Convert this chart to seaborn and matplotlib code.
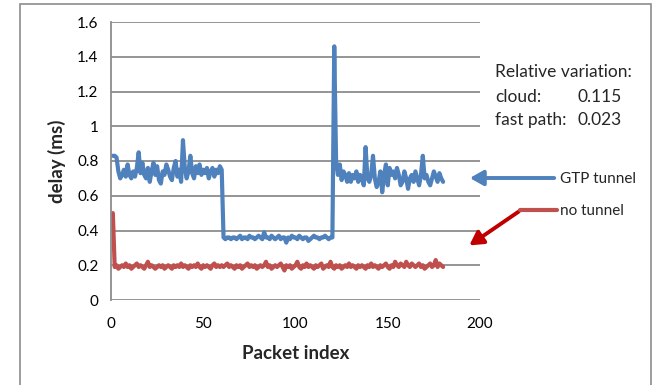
import matplotlib
matplotlib.use('Agg')
import matplotlib.pyplot as plt
import matplotlib.patches as mpatches
import seaborn as sns
import pandas as pd
import numpy as np

# delay values (ms), packets 1..180
gtp_tunnel = [
    0.83, 0.83, 0.82, 0.74, 0.70, 0.72, 0.75, 0.71, 0.78, 0.72,
    0.70, 0.74, 0.71, 0.76, 0.85, 0.73, 0.79, 0.72, 0.70, 0.76,
    0.68, 0.74, 0.79, 0.72, 0.77, 0.69, 0.67, 0.74, 0.72, 0.78,
    0.75, 0.71, 0.69, 0.76, 0.80, 0.71, 0.75, 0.68, 0.92, 0.76,
    0.70, 0.74, 0.83, 0.73, 0.70, 0.77, 0.73, 0.78, 0.72, 0.75,
    0.73, 0.76, 0.70, 0.74, 0.76, 0.71, 0.75, 0.73, 0.77, 0.75,
    0.36, 0.35, 0.36, 0.36, 0.35, 0.36, 0.36, 0.35, 0.36, 0.37,
    0.35, 0.36, 0.36, 0.35, 0.37, 0.36, 0.36, 0.35, 0.36, 0.37,
    0.36, 0.35, 0.39, 0.36, 0.36, 0.35, 0.37, 0.36, 0.35, 0.36,
    0.37, 0.35, 0.36, 0.36, 0.33, 0.36, 0.35, 0.37, 0.36, 0.36,
    0.35, 0.37, 0.36, 0.35, 0.36, 0.36, 0.34, 0.35, 0.36, 0.37,
    0.36, 0.36, 0.35, 0.36, 0.36, 0.37, 0.36, 0.35, 0.36, 0.36,
    1.46, 0.80, 0.72, 0.78, 0.69, 0.74, 0.72, 0.68, 0.73, 0.68,
    0.72, 0.70, 0.74, 0.68, 0.72, 0.70, 0.66, 0.88, 0.70, 0.68,
    0.72, 0.83, 0.70, 0.65, 0.68, 0.74, 0.62, 0.72, 0.78, 0.66,
    0.76, 0.72, 0.74, 0.70, 0.76, 0.72, 0.66, 0.68, 0.74, 0.70,
    0.64, 0.70, 0.72, 0.68, 0.74, 0.70, 0.66, 0.72, 0.83, 0.70,
    0.72, 0.68, 0.66, 0.70, 0.74, 0.71, 0.68, 0.73, 0.70, 0.68,
]
no_tunnel = [
    0.50,
    0.19, 0.20, 0.18, 0.19, 0.20, 0.19, 0.21, 0.19, 0.20, 0.18,
    0.19, 0.20, 0.21, 0.19, 0.20, 0.19, 0.18, 0.20, 0.22, 0.19,
    0.20, 0.19, 0.18, 0.19, 0.20, 0.19, 0.20, 0.18, 0.19, 0.20,
    0.19, 0.18, 0.20, 0.19, 0.20, 0.19, 0.21, 0.19, 0.20, 0.19,
    0.18, 0.20, 0.19, 0.20, 0.19, 0.21, 0.19, 0.18, 0.20, 0.19,
    0.20, 0.19, 0.18, 0.20, 0.21, 0.19, 0.20, 0.19, 0.20, 0.19,
    0.20, 0.21, 0.19, 0.20, 0.19, 0.18, 0.20, 0.19, 0.20, 0.18,
    0.19, 0.20, 0.21, 0.19, 0.20, 0.19, 0.20, 0.18, 0.19, 0.20,
    0.19, 0.20, 0.22, 0.19, 0.20, 0.18, 0.19, 0.20, 0.19, 0.20,
    0.21, 0.19, 0.17, 0.20, 0.19, 0.20, 0.18, 0.19, 0.20, 0.22,
    0.19, 0.18, 0.20, 0.19, 0.21, 0.19, 0.20, 0.19, 0.18, 0.20,
    0.19, 0.20, 0.21, 0.18, 0.19, 0.20, 0.19, 0.22, 0.19, 0.18,
    0.20, 0.19, 0.20, 0.18, 0.19, 0.20, 0.19, 0.21, 0.19, 0.20,
    0.19, 0.18, 0.20, 0.19, 0.20, 0.19, 0.18, 0.20, 0.19, 0.21,
    0.19, 0.20, 0.19, 0.18, 0.20, 0.19, 0.20, 0.21, 0.19, 0.18,
    0.20, 0.19, 0.22, 0.20, 0.19, 0.21, 0.20, 0.19, 0.22, 0.20,
    0.19, 0.21, 0.20, 0.19, 0.20, 0.21, 0.19, 0.20, 0.18, 0.19,
    0.20, 0.21, 0.19, 0.20, 0.23, 0.19, 0.21, 0.20, 0.19,
]
packet_index = np.arange(1, len(gtp_tunnel) + 1)

x_ticks = [0, 50, 100, 150, 200]
y_ticks = [0, 0.2, 0.4, 0.6, 0.8, 1.0, 1.2, 1.4, 1.6]
y_tick_labels = ['0', '0.2', '0.4', '0.6', '0.8', '1', '1.2', '1.4', '1.6']

blue = '#4F81BD'
red = '#C0504D'

df = pd.DataFrame({
    'Packet index': np.concatenate([packet_index, packet_index]),
    'delay': gtp_tunnel + no_tunnel,
    'series': ['GTP tunnel'] * len(gtp_tunnel) + ['no tunnel'] * len(no_tunnel),
})

sns.set_style('white')
plt.rcParams['font.family'] = ['Lato', 'DejaVu Sans']

W, H = 659, 385
fig = plt.figure(figsize=(W / 100, H / 100), dpi=100)
ax = fig.add_axes([111 / W, 1 - 300 / H, (480 - 111) / W, (300 - 22) / H])

sns.lineplot(data=df, x='Packet index', y='delay', hue='series',
             palette={'GTP tunnel': blue, 'no tunnel': red},
             linewidth=3.0, legend=False, ax=ax)

ax.set_xlim(0, 200)
ax.set_ylim(0, 1.6)
ax.set_xticks(x_ticks)
ax.set_yticks(y_ticks)
ax.set_yticklabels(y_tick_labels)
ax.tick_params(length=0, labelsize=11, colors='black')
ax.tick_params(axis='x', pad=12)
ax.tick_params(axis='y', pad=9)
ax.grid(axis='y', color='#8C8C8C', linewidth=1.3)
ax.set_axisbelow(True)
for s in ['top', 'right', 'bottom']:
    ax.spines[s].set_visible(False)
ax.spines['left'].set_color('#8C8C8C')
ax.spines['left'].set_linewidth(1.3)

ax.set_xlabel('Packet index', fontsize=13.5, fontweight='bold', labelpad=10)
ax.set_ylabel('delay (ms)', fontsize=13.5, fontweight='bold', labelpad=8)


def px(x, y):
    return x / W, 1 - y / H


# outer chart border
fig.patches.append(mpatches.Rectangle(px(20, 420), (651 - 20) / W, (420 - 4) / H,
                                      transform=fig.transFigure, fill=False,
                                      edgecolor='#8C8C8C', linewidth=1.2))

# annotation text
fig.text(*px(495, 72), 'Relative variation:', fontsize=12.5, va='center')
fig.text(*px(495, 97), 'cloud:', fontsize=12.5, va='center')
fig.text(*px(577, 97), '0.115', fontsize=12.5, va='center')
fig.text(*px(495, 120), 'fast path:', fontsize=12.5, va='center')
fig.text(*px(577, 120), '0.023', fontsize=12.5, va='center')
fig.text(*px(560, 179), 'GTP tunnel', fontsize=11, va='center')
fig.text(*px(560, 211), 'no tunnel', fontsize=11, va='center')

# arrows
fig.add_artist(mpatches.FancyArrowPatch(px(557, 178), px(467, 178),
                                        transform=fig.transFigure,
                                        arrowstyle='-|>,head_length=8,head_width=4.5',
                                        color=blue, linewidth=2.8))
fig.add_artist(plt.Line2D([520 / W, 557 / W], [1 - 210 / H, 1 - 210 / H],
                          transform=fig.transFigure, color=red, linewidth=3))
fig.add_artist(mpatches.FancyArrowPatch(px(521, 210), px(467, 247),
                                        transform=fig.transFigure,
                                        arrowstyle='-|>,head_length=8,head_width=4.5',
                                        color='#C00000', linewidth=2.8))

fig.savefig('out.png', dpi=100)
